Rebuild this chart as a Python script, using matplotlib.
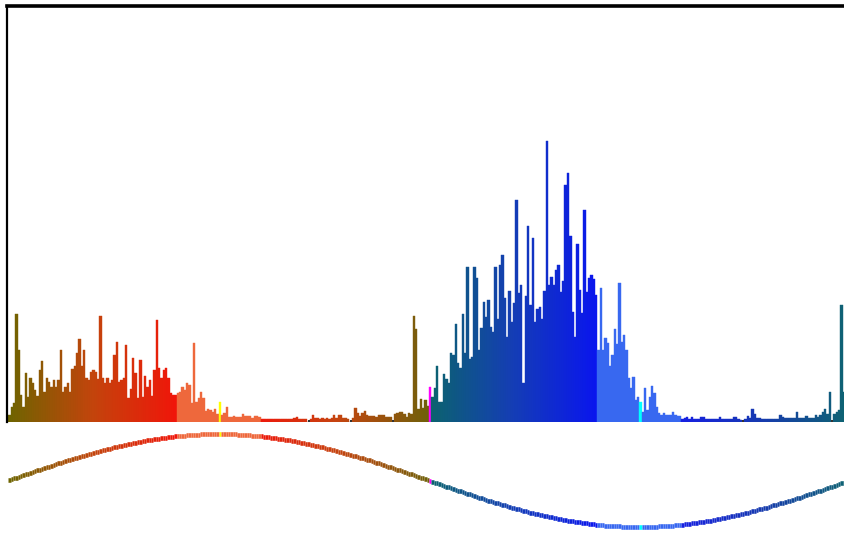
import numpy as np
import matplotlib
matplotlib.use("Agg")
import matplotlib.pyplot as plt

# Hue histogram: one bar per degree of hue (0..359)
counts_q1 = [  # 0-89
    7, 15, 19, 108, 72, 27, 15, 49, 25, 44,
    39, 32, 26, 52, 61, 30, 44, 40, 35, 42, 35, 42, 72, 30, 35,
    39, 30, 53, 56, 69, 83, 56, 72, 44, 42, 50, 52, 50, 43,
    106,
    44, 39, 44, 39, 42, 67, 80, 40, 42,
    44, 77, 24, 33, 64, 49, 24, 62, 25, 46, 35, 42, 26, 52,
    102,
    54, 44, 52, 54, 44, 29, 27, 27,
    29, 30, 35, 32, 39, 37, 19,
    79,
    20, 24, 30, 24, 11, 13, 12, 10, 13, 8,
]
count_90 = 20
counts_q2 = [  # 91-179
    7, 9, 15, 5, 5, 6, 5, 5, 5, 8, 6, 6, 6, 4, 6, 6, 5,
    3, 3, 3, 3, 3, 3, 3, 3, 3, 3, 3, 3, 3, 3, 4,
    5, 3, 3, 3, 3, 0,
    3, 7, 4, 4, 3, 4, 3, 4, 3, 4, 7, 4, 7, 7, 4, 4, 3, 0,
    4, 14, 9, 6, 9, 11, 7, 6, 6, 6, 5, 7, 7, 7, 5, 5, 5, 0,
    8, 9, 10, 10, 8, 5, 9, 8,
    106, 93, 13, 23, 14, 22, 16,
]
count_180 = 35
counts_q3 = [  # 181-269
    25, 34, 56, 20, 20, 48, 43, 39, 69, 67,
    98, 59, 54, 108, 69, 155, 63, 65, 155, 144,
    72, 94, 120, 105, 122, 95,
    90, 155, 103,
    157, 167, 124, 85, 131, 100, 119, 222, 129, 137,
    39,
    126, 196, 117, 184, 100, 113, 115, 103,
    131, 281, 137, 145, 137, 152, 157, 130, 141, 237,
    249, 186, 110, 85, 178, 132, 109, 212, 130,
    144, 147,
    143, 127, 72, 134, 72, 84, 79,
    56, 67, 93, 78, 139, 80, 87, 72, 44, 34,
    45, 22, 25,
]
count_270 = 20
counts_q4 = [  # 271-359
    10, 34, 12, 25, 36, 29, 15, 9, 7, 9,
    7, 7, 7, 10, 7, 6, 6, 3, 4, 5,
    3, 5, 3, 3, 3, 5, 5, 3, 3, 3,
    3, 3, 3, 5, 3, 3, 3, 3, 3, 5,
    5, 3, 2, 0, 3, 6, 4, 13, 8, 4,
    4, 3, 3, 3, 3, 3, 3, 3, 3, 7,
    5, 4, 4, 4, 4, 4, 10, 4, 4, 4,
    6, 4, 4, 4, 7, 5, 7, 10, 13, 8,
    30, 0, 8, 10, 12, 117, 30, 20, 15,
]

counts = np.array(counts_q1 + [count_90] + counts_q2 + [count_180]
                  + counts_q3 + [count_270] + counts_q4, dtype=float)
n_bins = len(counts)
bins = np.arange(n_bins)


def ramp(stops, i):
    """Piecewise-linear RGB between (bin, (r, g, b)) stops."""
    pos = [s[0] for s in stops]
    return tuple(np.interp(i, pos, [s[1][c] for s in stops]) / 255 for c in range(3))


warm_a = [(0, (110, 100, 0)), (36, (195, 68, 12)), (71, (240, 22, 10))]
warm_b = [(108, (236, 26, 12)), (140, (198, 68, 16)), (179, (112, 96, 10))]
cool_a = [(181, (12, 98, 112)), (215, (20, 62, 180)), (251, (10, 22, 238))]
cool_b = [(288, (22, 32, 225)), (322, (22, 58, 175)), (359, (14, 100, 112))]
light_warm = (238 / 255, 104 / 255, 60 / 255)
light_cool = (56 / 255, 104 / 255, 240 / 255)


def bin_color(i):
    if i == 90:
        return (1.0, 1.0, 0.0)
    if i == 180:
        return (1.0, 0.0, 1.0)
    if i == 270:
        return (0.0, 1.0, 1.0)
    if i <= 71:
        return ramp(warm_a, i)
    if i <= 107:
        return light_warm
    if i <= 179:
        return ramp(warm_b, i)
    if i <= 251:
        return ramp(cool_a, i)
    if i <= 287:
        return light_cool
    return ramp(cool_b, i)


colors = [bin_color(i) for i in bins]

W, H = 845, 533
fig = plt.figure(figsize=(W / 100, H / 100), dpi=100)
fig.patch.set_facecolor("white")


def px_axes(left, top, right, bottom):
    return fig.add_axes([left / W, 1 - bottom / H, (right - left) / W, (bottom - top) / H])


x0 = -0.34
ax = px_axes(7.5, 6, 849.6, 422)
ax.bar(bins, counts, width=1.0, align="edge", color=colors,
       edgecolor=colors, linewidth=0.3)
zero = counts == 0
ax.scatter(bins[zero] + 0.5, np.full(zero.sum(), 0.6), s=3, marker="s",
           color="#333333", linewidths=0, zorder=3)
ax.set_xlim(x0, n_bins)
ax.set_ylim(0, 416)
ax.set_xticks([])
ax.set_yticks([])
for side in ("right", "bottom"):
    ax.spines[side].set_visible(False)
ax.spines["top"].set_linewidth(2.6)
ax.spines["left"].set_linewidth(1.6)
ax.spines["top"].set_color("black")
ax.spines["left"].set_color("black")
ax.patch.set_alpha(0)

# Hue guide curve below the histogram
wave = np.sin(np.deg2rad(bins + 0.5))
ax2 = px_axes(7.5, 425, 849.6, 533)
ax2.hlines(wave, bins, bins + 1, colors=colors, linewidth=3.3)
ax2.set_xlim(x0, n_bins)
ax2.set_ylim(-1.129, 1.194)
ax2.axis("off")

fig.savefig("out.png", dpi=100, facecolor="white")
